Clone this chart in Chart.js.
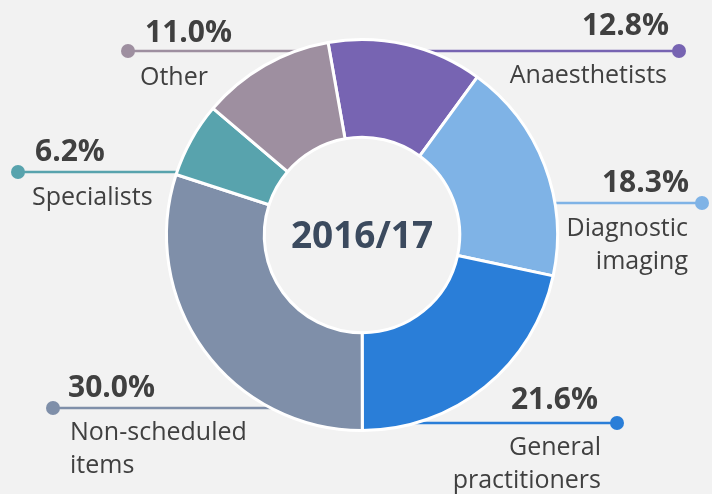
<!DOCTYPE html>
<html lang="en">
<head>
    <meta charset="UTF-8">
    <title>2016/17 share</title>
    <script src="https://cdn.jsdelivr.net/npm/chart.js"></script>
    <style>
        body {
            margin: 0;
            background: #f2f2f2;
        }
        #wrap {
            width: 712px;
            height: 494px;
        }
    </style>
</head>
<body>
    <div id="wrap">
        <canvas id="myChart" width="712" height="494"></canvas>
    </div>

    <script>
        // data
        const categories = ['Anaesthetists', 'Diagnostic imaging', 'General practitioners', 'Non-scheduled items', 'Specialists', 'Other'];
        const shares = [12.8, 18.3, 21.6, 30.0, 6.2, 11.0];
        const colors = ['#7764b2', '#7fb3e6', '#2a7ed8', '#7f8fa9', '#58a3ad', '#9e8fa0'];
        const centerLabel = '2016/17';

        // label layout: leader y, dot x, side, percent anchor, text anchor, wrapped lines
        const labelLayout = [
            { y: 51, dotX: 679, side: 'right', pct: [669, 35], txt: [667, 83], lines: ['Anaesthetists'] },
            { y: 203, dotX: 702, side: 'right', pct: [689, 192], txt: [688, 236], lines: ['Diagnostic', 'imaging'] },
            { y: 423, dotX: 617, side: 'right', pct: [598, 409], txt: [601, 455], lines: ['General', 'practitioners'] },
            { y: 408, dotX: 53, side: 'left', pct: [68, 397], txt: [70, 440], lines: ['Non-scheduled', 'items'] },
            { y: 172, dotX: 18, side: 'left', pct: [35, 161], txt: [32, 205], lines: ['Specialists'] },
            { y: 51, dotX: 128, side: 'left', pct: [145, 42], txt: [140, 85], lines: ['Other'] }
        ];

        const FONT = '"Segoe UI", "Open Sans", sans-serif';

        const leaderLines = {
            id: 'leaderLines',
            beforeDatasetsDraw(chart) {
                const ctx = chart.ctx;
                const arc = chart.getDatasetMeta(0).data[0];
                const cx = arc.x, cy = arc.y;
                const mid = (arc.innerRadius + arc.outerRadius) / 2;
                ctx.save();
                labelLayout.forEach((l, i) => {
                    const dy = l.y - cy;
                    let endX = cx;
                    if (Math.abs(dy) < mid) {
                        const off = Math.sqrt(mid * mid - dy * dy);
                        endX = l.side === 'right' ? cx + off : cx - off;
                    }
                    ctx.strokeStyle = colors[i];
                    ctx.lineWidth = 2.5;
                    ctx.beginPath();
                    ctx.moveTo(l.dotX, l.y);
                    ctx.lineTo(endX, l.y);
                    ctx.stroke();
                    ctx.fillStyle = colors[i];
                    ctx.beginPath();
                    ctx.arc(l.dotX, l.y, 7, 0, Math.PI * 2);
                    ctx.fill();
                });
                ctx.restore();
            },
            afterDatasetsDraw(chart) {
                const ctx = chart.ctx;
                const arc = chart.getDatasetMeta(0).data[0];
                ctx.save();
                ctx.textBaseline = 'alphabetic';
                labelLayout.forEach((l, i) => {
                    ctx.fillStyle = '#404040';
                    ctx.textAlign = l.side === 'right' ? 'right' : 'left';
                    ctx.font = 'bold 30px ' + FONT;
                    ctx.fillText(shares[i].toFixed(1) + '%', l.pct[0], l.pct[1]);
                    ctx.font = '25px ' + FONT;
                    l.lines.forEach((s, k) => {
                        ctx.fillText(s, l.txt[0], l.txt[1] + k * 33);
                    });
                });
                ctx.fillStyle = '#3b4a5e';
                ctx.font = 'bold 37px ' + FONT;
                ctx.textAlign = 'center';
                ctx.textBaseline = 'middle';
                ctx.fillText(centerLabel, arc.x, arc.y + 2);
                ctx.restore();
            }
        };

        const ctx = document.getElementById('myChart').getContext('2d');
        new Chart(ctx, {
            type: 'doughnut',
            data: {
                labels: categories,
                datasets: [{
                    data: shares,
                    backgroundColor: colors,
                    borderColor: '#ffffff',
                    borderWidth: 3
                }]
            },
            options: {
                responsive: false,
                animation: false,
                rotation: -10,
                cutout: '50%',
                layout: {
                    padding: { left: 165, right: 153, top: 38, bottom: 62 }
                },
                plugins: {
                    legend: { display: false },
                    tooltip: { enabled: false }
                }
            },
            plugins: [leaderLines]
        });
    </script>
</body>
</html>
